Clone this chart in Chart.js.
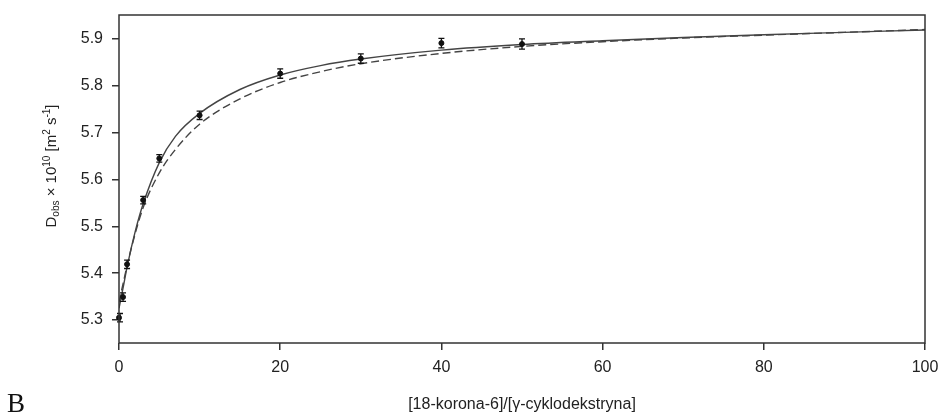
<!DOCTYPE html>
<html>
<head>
<meta charset="utf-8">
<script src="https://cdn.jsdelivr.net/npm/chart.js@4.4.0/dist/chart.umd.min.js"></script>
<style>
  html, body { margin: 0; padding: 0; background: #fff; }
  #wrap { position: relative; width: 943px; height: 414px; }
</style>
</head>
<body>
<div id="wrap"><canvas id="chart1" width="943" height="414"></canvas></div>
<script>
// measured points with error bars
var ratio = [0, 0.5, 1, 3, 5, 10, 20, 30, 40, 50];
var dObs = [5.305, 5.349, 5.419, 5.556, 5.645, 5.737, 5.826, 5.858, 5.891, 5.889];
var dErr = [0.009, 0.009, 0.009, 0.008, 0.008, 0.009, 0.010, 0.010, 0.010, 0.011];

// fitted curves
var fitX = [0, 0.5, 1, 2, 3, 5, 7, 10, 15, 20, 25, 30, 40, 50, 60, 70, 80, 90, 100];
var fitSolid = [5.325, 5.368, 5.413, 5.488, 5.548, 5.636, 5.692, 5.741, 5.792, 5.823, 5.843, 5.857, 5.876, 5.888, 5.896, 5.903, 5.909, 5.914, 5.919];
var fitDashed = [5.338, 5.377, 5.416, 5.484, 5.540, 5.614, 5.664, 5.718, 5.772, 5.807, 5.830, 5.847, 5.869, 5.884, 5.894, 5.902, 5.908, 5.914, 5.920];

var xTicks = [0, 20, 40, 60, 80, 100];
var yTicks = [5.3, 5.4, 5.5, 5.6, 5.7, 5.8, 5.9];

var xTitle = '[18-korona-6]/[\u03b3-cyklodekstryna]';
var panelLabel = 'B';

function pts(xs, ys) {
    return xs.map(function (x, i) { return { x: x, y: ys[i] }; });
}

var fam = 'Arial, "Liberation Sans"';
var tickFont = { family: fam, size: 16 };

var extras = {
    id: 'extras',
    afterDatasetsDraw: function (chart) {
        var ctx = chart.ctx;
        var xs = chart.scales.x, ys = chart.scales.y;
        var a = chart.chartArea;
        ctx.save();
        // error bars
        ctx.strokeStyle = '#111';
        ctx.lineWidth = 1.3;
        ratio.forEach(function (x, i) {
            var px = xs.getPixelForValue(x);
            if (x === 0) px += 1;
            var top = ys.getPixelForValue(dObs[i] + dErr[i]);
            var bot = ys.getPixelForValue(dObs[i] - dErr[i]);
            ctx.beginPath();
            ctx.moveTo(px, top); ctx.lineTo(px, bot);
            ctx.moveTo(px - 3, top); ctx.lineTo(px + 3, top);
            ctx.moveTo(px - 3, bot); ctx.lineTo(px + 3, bot);
            ctx.stroke();
        });
        // frame
        ctx.strokeStyle = '#333';
        ctx.lineWidth = 1.5;
        ctx.strokeRect(a.left, a.top, a.right - a.left, a.bottom - a.top);
        ctx.restore();
    },
    afterDraw: function (chart) {
        var ctx = chart.ctx;
        ctx.save();
        ctx.fillStyle = '#222';
        // y title with sub/superscripts
        var parts = [
            ['D', 15, 0], ['obs', 10, 3], [' \u00d7 10', 15, 0], ['10', 10, -6],
            [' [m', 15, 0], ['2', 10, -6], [' s', 15, 0], ['-1', 10, -6], [']', 15, 0]
        ];
        var total = 0;
        parts.forEach(function (p) {
            ctx.font = p[1] + 'px ' + fam;
            p.push(ctx.measureText(p[0]).width);
            total += p[3];
        });
        ctx.translate(56, 166);
        ctx.rotate(-Math.PI / 2);
        ctx.textBaseline = 'alphabetic';
        ctx.textAlign = 'left';
        var cx = -total / 2;
        parts.forEach(function (p) {
            ctx.font = p[1] + 'px ' + fam;
            ctx.fillText(p[0], cx, p[2]);
            cx += p[3];
        });
        ctx.restore();
        ctx.save();
        ctx.fillStyle = '#111';
        ctx.font = '27px "Liberation Serif", "Times New Roman", serif';
        ctx.textBaseline = 'alphabetic';
        ctx.fillText(panelLabel, 7, 412);
        ctx.restore();
    }
};

var myChart = document.getElementById('chart1').getContext('2d');
var diffChart = new Chart(myChart, {
    type: 'scatter',
    data: {
        datasets: [{
            label: 'pomiar',
            data: pts(ratio, dObs),
            showLine: false,
            clip: false,
            pointRadius: 2.5,
            pointBackgroundColor: '#111',
            pointBorderColor: '#111',
            order: 0
        }, {
            label: 'fit 1',
            data: pts(fitX, fitSolid),
            showLine: true,
            borderColor: '#444',
            borderWidth: 1.4,
            pointRadius: 0,
            cubicInterpolationMode: 'monotone',
            order: 1
        }, {
            label: 'fit 2',
            data: pts(fitX, fitDashed),
            showLine: true,
            borderColor: '#444',
            borderWidth: 1.4,
            borderDash: [8, 4],
            pointRadius: 0,
            cubicInterpolationMode: 'monotone',
            order: 2
        }]
    },
    plugins: [extras],
    options: {
        responsive: false,
        animation: false,
        layout: { padding: { left: 0, top: 15, right: 18, bottom: 0 } },
        plugins: {
            legend: { display: false },
            tooltip: { enabled: false }
        },
        scales: {
            x: {
                type: 'linear',
                min: 0,
                max: 100,
                afterBuildTicks: function (s) { s.ticks = xTicks.map(function (v) { return { value: v }; }); },
                afterFit: function (s) { s.height = 71; s.paddingLeft = 0; s.paddingRight = 0; },
                grid: { drawOnChartArea: false, tickLength: 7, color: '#333', lineWidth: 1.5 },
                border: { display: false },
                ticks: { font: tickFont, color: '#222', padding: 8, maxRotation: 0 },
                title: {
                    display: true,
                    text: xTitle,
                    font: { family: fam, size: 16 },
                    color: '#222',
                    padding: { top: 0, bottom: 0 }
                }
            },
            y: {
                type: 'linear',
                min: 5.251,
                max: 5.951,
                afterBuildTicks: function (s) { s.ticks = yTicks.map(function (v) { return { value: v }; }); },
                afterFit: function (s) { s.width = 119; s.paddingTop = 0; s.paddingBottom = 0; },
                grid: { drawOnChartArea: false, tickLength: 7, color: '#333', lineWidth: 1.5 },
                border: { display: false },
                ticks: {
                    font: tickFont, color: '#222', padding: 9,
                    callback: function (v) { return v.toFixed(1); }
                }
            }
        }
    }
});
</script>
</body>
</html>
